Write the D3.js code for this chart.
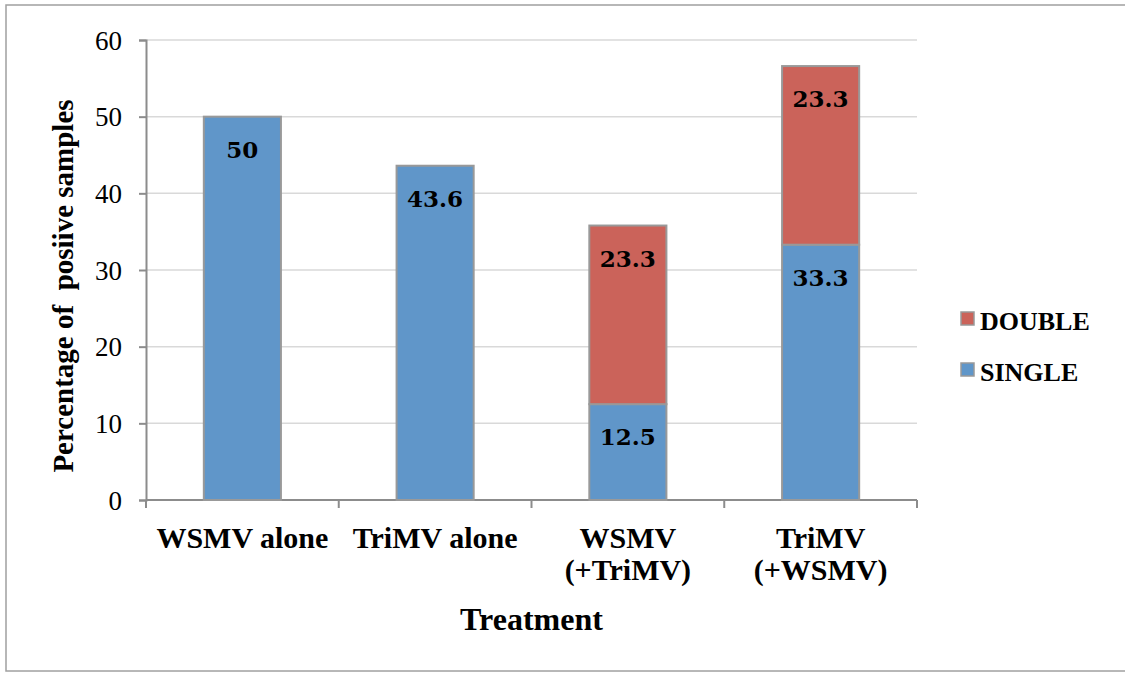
<!DOCTYPE html>
<html>
<head>
<meta charset="utf-8">
<script src="https://cdn.jsdelivr.net/npm/d3@7"></script>
<style>
  body { margin: 0; background: #fff; }
  svg { display: block; }
</style>
</head>
<body>
<script>
// treatments, with their label lines
const treatments = ["WSMV alone", "TriMV alone", "WSMV (+TriMV)", "TriMV (+WSMV)"];
const treatmentLines = [["WSMV alone"], ["TriMV alone"], ["WSMV", "(+TriMV)"], ["TriMV", "(+WSMV)"]];
const single = [50, 43.6, 12.5, 33.3];
const double = [0, 0, 23.3, 23.3];
const seriesNames = ["SINGLE", "DOUBLE"];
const seriesColors = ["#6096c9", "#cb635a"];
const yTicks = [0, 10, 20, 30, 40, 50, 60];

const serif = "'Liberation Serif', 'Times New Roman', serif";
const width = 1125, height = 676;
const margin = {left: 146, right: 208, top: 40, bottom: 176};

const svg = d3.select("body").append("svg")
    .attr("width", width)
    .attr("height", height);

// outer frame
svg.append("rect")
    .attr("x", 6).attr("y", 5)
    .attr("width", width + 10).attr("height", 666)
    .attr("fill", "none")
    .attr("stroke", "#a0a0a0")
    .attr("stroke-width", 1.5);

const x = d3.scaleBand()
    .domain(treatments)
    .range([margin.left, width - margin.right])
    .paddingInner(0.6)
    .paddingOuter(0.3);

const y = d3.scaleLinear()
    .domain([0, 60])
    .range([height - margin.bottom, margin.top]);

// gridlines
svg.append("g")
    .selectAll("line")
    .data(yTicks.filter(d => d > 0))
    .join("line")
    .attr("x1", margin.left).attr("x2", width - margin.right)
    .attr("y1", d => y(d)).attr("y2", d => y(d))
    .attr("stroke", "#d9d9d9")
    .attr("stroke-width", 1.5);

// y axis
const yAxis = svg.append("g")
    .attr("transform", "translate(" + margin.left + ",0)")
    .call(d3.axisLeft(y).tickValues(yTicks).tickSize(7).tickPadding(17))
    .attr("font-family", serif);
yAxis.select(".domain").attr("stroke", "#8c8c8c").attr("stroke-width", 2);
yAxis.selectAll(".tick line").attr("stroke", "#8c8c8c").attr("stroke-width", 2);
yAxis.selectAll(".tick text")
    .attr("font-family", serif)
    .attr("font-size", 27)
    .attr("fill", "#000")
    .attr("dy", "0.34em");

// x axis line and ticks on the category boundaries
const bounds = d3.range(treatments.length + 1).map(i => margin.left + i * (width - margin.left - margin.right) / treatments.length);
svg.append("line")
    .attr("x1", margin.left).attr("x2", width - margin.right)
    .attr("y1", y(0)).attr("y2", y(0))
    .attr("stroke", "#8c8c8c").attr("stroke-width", 2);
svg.append("g")
    .selectAll("line")
    .data(bounds)
    .join("line")
    .attr("x1", d => d).attr("x2", d => d)
    .attr("y1", y(0)).attr("y2", y(0) + 8)
    .attr("stroke", "#8c8c8c").attr("stroke-width", 2);

// stacked bars
const rows = treatments.map((t, i) => ({treatment: t, SINGLE: single[i], DOUBLE: double[i]}));
const stacked = d3.stack().keys(seriesNames)(rows);

const layers = svg.append("g")
    .selectAll("g")
    .data(stacked)
    .join("g")
    .attr("fill", (d, i) => seriesColors[i]);

const segs = d => d.filter(s => s.data[d.key] > 0).map(s => ({s: s, value: s.data[d.key]}));

layers.selectAll("rect")
    .data(segs)
    .join("rect")
    .attr("x", d => x(d.s.data.treatment))
    .attr("width", x.bandwidth())
    .attr("y", d => y(d.s[1]))
    .attr("height", d => y(d.s[0]) - y(d.s[1]))
    .attr("stroke", "#999")
    .attr("stroke-width", 2);

layers.selectAll("text")
    .data(segs)
    .join("text")
    .attr("x", d => x(d.s.data.treatment) + x.bandwidth() / 2)
    .attr("y", d => y(d.s[1]) + 41)
    .attr("text-anchor", "middle")
    .attr("font-family", "'DejaVu Serif', serif")
    .attr("font-weight", "bold")
    .attr("font-size", 23)
    .attr("fill", "#000")
    .text(d => d.value);

// category labels
svg.append("g")
    .selectAll("text")
    .data(treatments)
    .join("text")
    .attr("x", d => x(d) + x.bandwidth() / 2)
    .attr("y", 548)
    .attr("text-anchor", "middle")
    .attr("font-family", serif)
    .attr("font-weight", "bold")
    .attr("font-size", 30)
    .selectAll("tspan")
    .data((d, i) => treatmentLines[i])
    .join("tspan")
    .attr("x", function() { return this.parentNode.getAttribute("x"); })
    .attr("dy", (d, i) => i === 0 ? 0 : 32)
    .text(d => d);

// axis titles
svg.append("text")
    .attr("x", (margin.left + width - margin.right) / 2)
    .attr("y", 630)
    .attr("text-anchor", "middle")
    .attr("font-family", serif)
    .attr("font-weight", "bold")
    .attr("font-size", 32)
    .text("Treatment");

svg.append("text")
    .attr("transform", "translate(73,286) rotate(-90)")
    .attr("text-anchor", "middle")
    .attr("font-family", serif)
    .attr("font-weight", "bold")
    .attr("font-size", 29)
    .style("white-space", "pre")
    .text("Percentage of  posiive samples");

// legend
const legendItems = [
    {name: "DOUBLE", color: seriesColors[1]},
    {name: "SINGLE", color: seriesColors[0]}
];
const legend = svg.append("g")
    .selectAll("g")
    .data(legendItems)
    .join("g")
    .attr("transform", (d, i) => "translate(961," + (312 + i * 51) + ")");
legend.append("rect")
    .attr("width", 13).attr("height", 13)
    .attr("fill", d => d.color)
    .attr("stroke", "#999")
    .attr("stroke-width", 1.5);
legend.append("text")
    .attr("x", 19)
    .attr("y", 18)
    .attr("font-family", serif)
    .attr("font-weight", "bold")
    .attr("font-size", 26)
    .text(d => d.name);
</script>
</body>
</html>
